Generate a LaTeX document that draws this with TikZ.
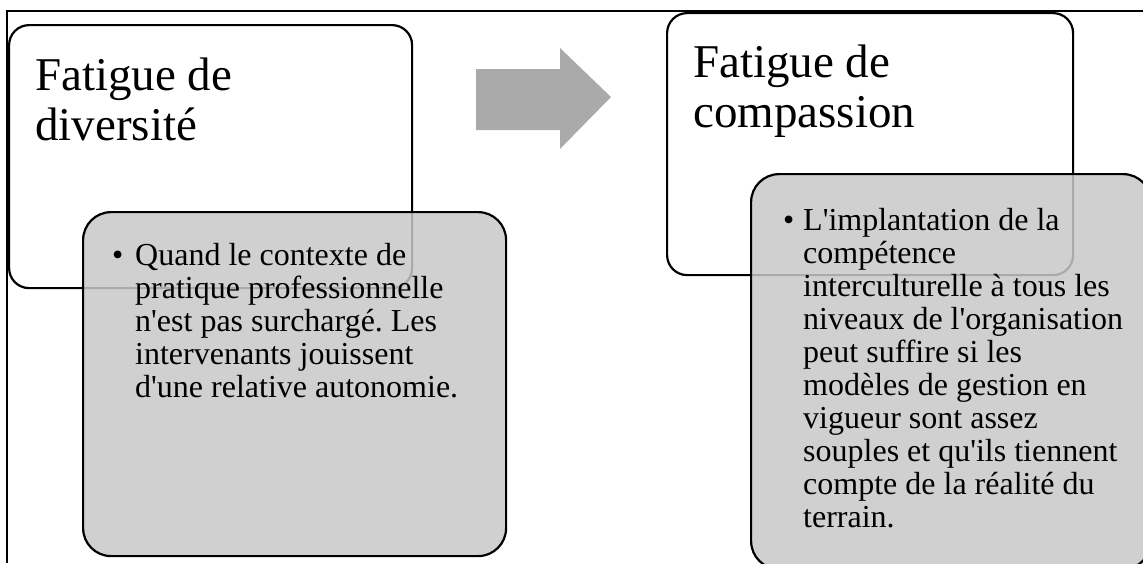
\documentclass[tikz,border=0pt]{standalone}
\usepackage{fontspec}
\newfontfamily\frfont{Liberation Serif}
\usetikzlibrary{positioning}
\definecolor{boxgray}{RGB}{200,200,200}
\definecolor{arrowgray}{RGB}{170,170,170}
\frenchspacing

\begin{document}
\begin{tikzpicture}[x=1pt, y=-1pt,
    frame/.style={line width=1.2pt},
    outer/.style={draw, line width=2.2pt, rounded corners=20pt, fill=white,
      inner sep=0pt, anchor=north west},
    inner/.style={draw, line width=2.2pt, rounded corners=28pt, fill=boxgray,
      fill opacity=0.85, inner sep=0pt, anchor=north west},
    title/.style={font=\frfont\fontsize{47}{50}\selectfont, align=left,
      anchor=base west, inner sep=0pt},
    body/.style={font=\frfont\fontsize{32}{33}\selectfont, align=left,
      anchor=base west, inner sep=0pt},
    bullet/.style={font=\frfont\fontsize{32}{33}\selectfont, anchor=base west,
      inner sep=0pt},
  ]
  \useasboundingbox (0,0) rectangle (1143,563);
  \clip (0,0) rectangle (1143,563);

  % --- frame ---
  \draw[frame] (7,563) -- (7,11) -- (1143,11);

  % --- upper boxes (base anchor = last line) ---
  \node[outer, minimum width=403pt, minimum height=263pt] (divbox) at (8,24) {};
  \node[outer, minimum width=406pt, minimum height=262pt] (compbox) at (666,12) {};
  \node[title] (divtitle) at (35,140) {Fatigue de\\diversité};
  \node[title] (comptitle) at (693,127) {Fatigue de\\compassion};

  % --- lower boxes ---
  \node[inner, minimum width=423pt, minimum height=344pt] (divnote) at (82,211) {};
  \node[inner, minimum width=400pt, minimum height=395pt] (compnote) at (750,173) {};

  \node[bullet] (divdot) at (112,265) {•};
  \node[body] (divtext) at (135,397)
    {Quand le contexte de\\pratique professionnelle\\n'est pas surchargé. Les\\
     intervenants jouissent\\d'une relative autonomie.};

  \node[bullet] (compdot) at (783,230) {•};
  \node[body] (comptext) at (803,527)
    {L'implantation de la\\compétence\\interculturelle à tous les\\
     niveaux de l'organisation\\peut suffire si les\\modèles de gestion en\\
     vigueur sont assez\\souples et qu'ils tiennent\\compte de la réalité du\\
     terrain.};

  % --- arrow between the two ---
  \fill[arrowgray] (476,69) -- (560,69) -- (560,48) -- (611,97)
    -- (560,149) -- (560,130) -- (476,130) -- cycle;

\end{tikzpicture}
\end{document}
